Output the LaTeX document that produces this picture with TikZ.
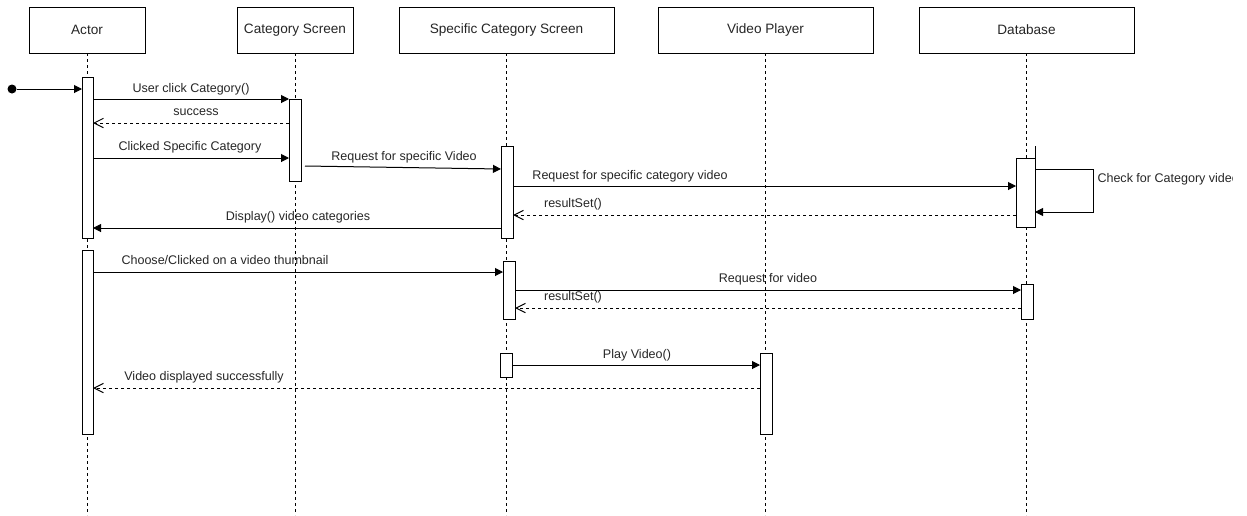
\documentclass[tikz,border=0pt]{standalone}
\usepackage{fontspec}
\setmainfont{Liberation Sans}
\usetikzlibrary{arrows.meta,fit,calc}
\begin{document}
\begin{tikzpicture}[x=0.75pt,y=-0.75pt,line width=0.75pt,
  head/.style={draw,fill=white,inner sep=0pt,outer sep=0pt},
  htext/.style={inner sep=0pt,text=black!85,font=\fontsize{10.2}{12}\selectfont},
  bar/.style={draw,fill=white,inner sep=0pt,outer sep=0pt},
  life/.style={dash pattern=on 2.25pt off 2.25pt},
  call/.style={-{Triangle[length=6pt,width=6pt]}},
  reply/.style={dash pattern=on 2.25pt off 2.25pt,-{Straight Barb[length=7pt,width=7pt]}},
  lbl/.style={inner sep=0pt,text=black!85,font=\fontsize{9.4}{11}\selectfont}]
\useasboundingbox (0,0) rectangle (1247,515);

% participants
\node[head,fit={(29,7) (145,53)}] (actor) {};
\node[head,fit={(237,7) (353,53)}] (cat) {};
\node[head,fit={(399,7) (614,53)}] (spec) {};
\node[head,fit={(658,7) (873,53)}] (vp) {};
\node[head,fit={(919,7) (1134,53)}] (db) {};
\node[htext] at (actor) {Actor};
\node[htext] at (cat) {Category Screen};
\node[htext] at (spec) {Specific Category Screen};
\node[htext] at (vp) {Video Player};
\node[htext] at (db) {Database};

% lifelines
\foreach \p in {actor,cat,spec,vp,db}
  \draw[life] (\p.south) -- (\p.south |- 0,515);

% activation bars
\node[bar,fit={(82,77) (93,238)}] (a1) {};
\node[bar,fit={(82,250) (93,434)}] (a2) {};
\node[bar,fit={(289,99) (301,181)}] (c1) {};
\node[bar,fit={(501,146) (513,238)}] (s1) {};
\node[bar,fit={(503,261) (515,319)}] (s2) {};
\node[bar,fit={(500,353) (512,377)}] (s3) {};
\node[bar,fit={(1016,158) (1035,227)}] (d1) {};
\node[bar,fit={(1021,284) (1033,319)}] (d2) {};
\node[bar,fit={(760,353) (772,434)}] (v1) {};
\draw (d1.north east) -- ++(0,-12);

% found message
\node[circle,fill,minimum size=6.75pt,inner sep=0pt] (start) at (12,89) {};
\draw[call] (start) -- (a1.west |- start);

% messages
\draw[call] (a1.east |- 0,99) -- (c1.west |- 0,99);
\node[lbl] at (191,89) {User click Category()};

\draw[reply] (c1.west |- 0,123) -- (a1.east |- 0,123);
\node[lbl] at (196,112) {success};

\draw[call] (a1.east |- 0,158) -- (c1.west |- 0,158);
\node[lbl] at (190,147) {Clicked Specific Category};

\draw[call] ($(c1.east |- 0,166)+(4,0)$) -- (s1.west |- 0,169);
\node[lbl] at (404,157) {Request for specific Video};

\draw[call] (s1.east |- 0,186) -- (d1.west |- 0,186);
\node[lbl] at (630,176) {Request for specific category video};

\draw[reply] (d1.west |- 0,215) -- (s1.east |- 0,215);
\node[lbl] at (573,204) {resultSet()};

\draw[call] (s1.west |- 0,228) -- (a1.east |- 0,228);
\node[lbl] at (298,217) {Display() video categories};

% self call on the database, its label cut at the label box edge
\coordinate (loopR) at (1093,169);
\draw[call] (d1.east |- loopR) -- (loopR) |- (d1.east |- 0,212);
\begin{scope}
  \clip (1095,165) rectangle (1232,195);
  \node[lbl,anchor=west] (selfmsg) at (1097,179) {Check for Category video};
\end{scope}

\draw[call] (a2.east |- 0,272) -- (s2.west |- 0,272);
\node[lbl] at (225,260) {Choose/Clicked on a video thumbnail};

\draw[call] (s2.east |- 0,290) -- (d2.west |- 0,290);
\node[lbl] at (768,279) {Request for video};

\draw[reply] (d2.west |- 0,308) -- (s2.east |- 0,308);
\node[lbl] at (573,297) {resultSet()};

\draw[call] (s3.east |- 0,365) -- (v1.west |- 0,365);
\node[lbl] at (637,355) {Play Video()};

\draw[reply] (v1.west |- 0,388) -- (a2.east |- 0,388);
\node[lbl] at (204,377) {Video displayed successfully};
\end{tikzpicture}
\end{document}
